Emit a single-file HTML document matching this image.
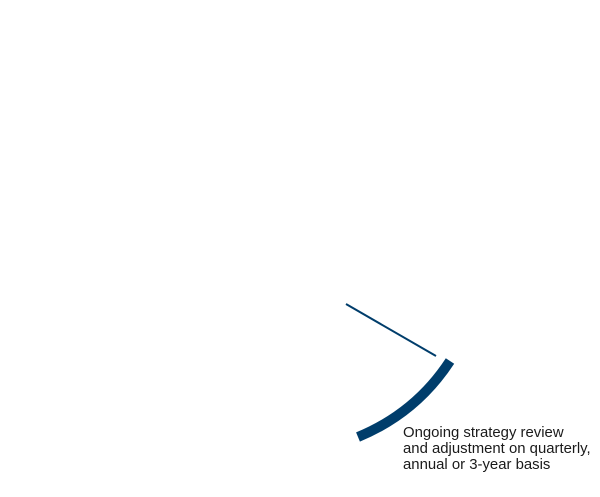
<!DOCTYPE html>
<html><head><style>
html,body{margin:0;padding:0;background:#fff;width:600px;height:497px;overflow:hidden}
.t{position:absolute;left:403px;top:425px;font-family:"Liberation Sans",sans-serif;font-size:14.9px;line-height:16px;color:#1a1a1a}
</style></head><body>
<svg width="600" height="497" style="position:absolute;left:0;top:0">
<line x1="346" y1="304" x2="436" y2="356" stroke="#003d6b" stroke-width="2"/>
<path d="M450 361 Q416 413 358 437" fill="none" stroke="#003d6b" stroke-width="10"/>
</svg>
<div class="t">Ongoing strategy review<br>and adjustment on quarterly,<br>annual or 3-year basis</div>
</body></html>
